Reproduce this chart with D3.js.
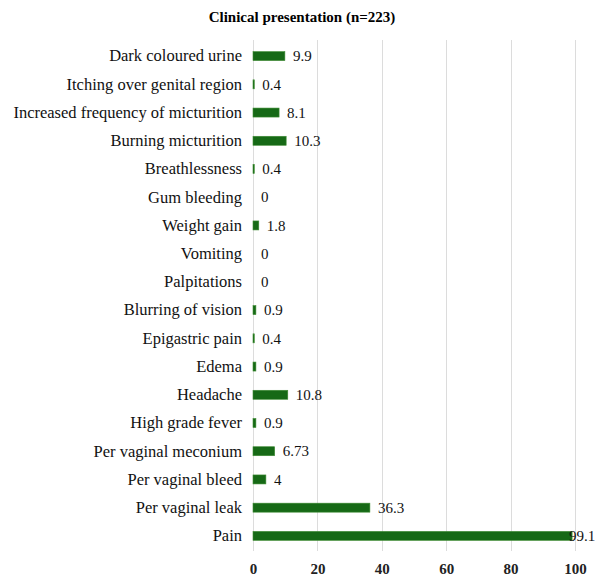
<!DOCTYPE html>
<html>
<head>
<meta charset="utf-8">
<script src="https://cdn.jsdelivr.net/npm/d3@7"></script>
</head>
<body style="margin:0">
<svg id="chart" width="598" height="582"></svg>
<script>
// Symptoms, listed top to bottom, with percentage of cases
const categories = [
  "Dark coloured urine",
  "Itching over genital region",
  "Increased frequency of micturition",
  "Burning micturition",
  "Breathlessness",
  "Gum bleeding",
  "Weight gain",
  "Vomiting",
  "Palpitations",
  "Blurring of vision",
  "Epigastric pain",
  "Edema",
  "Headache",
  "High grade fever",
  "Per vaginal meconium",
  "Per vaginal bleed",
  "Per vaginal leak",
  "Pain"
];
const values = [9.9, 0.4, 8.1, 10.3, 0.4, 0, 1.8, 0, 0, 0.9, 0.4, 0.9, 10.8, 0.9, 6.73, 4, 36.3, 99.1];
const valueLabels = ["9.9", "0.4", "8.1", "10.3", "0.4", "0", "1.8", "0", "0", "0.9", "0.4", "0.9", "10.8", "0.9", "6.73", "4", "36.3", "99.1"];
const tickValues = [0, 20, 40, 60, 80, 100];
const title = "Clinical presentation (n=223)";

const svg = d3.select("#chart");
const FONT = '"Liberation Serif", "Times New Roman", serif';

const x = d3.scaleLinear().domain([0, 100]).range([253, 575]);
const y = d3.scaleBand().domain(categories).range([42, 550]).paddingInner(0.68).paddingOuter(0.34);

// Vertical gridlines
svg.append("g").selectAll("line")
  .data(tickValues)
  .join("line")
  .attr("x1", d => Math.round(x(d)) + 0.5)
  .attr("x2", d => Math.round(x(d)) + 0.5)
  .attr("y1", 40).attr("y2", 551)
  .attr("stroke", "#dcdcdc")
  .attr("stroke-width", 1);

// Bars
const bh = 9;
svg.append("g").selectAll("rect")
  .data(values)
  .join("rect")
  .attr("x", x(0))
  .attr("y", (d, i) => y(categories[i]) + y.bandwidth() / 2 - bh / 2)
  .attr("width", d => x(d) - x(0))
  .attr("height", bh)
  .attr("fill", "#166916")
  .attr("stroke", d => d > 0 ? "#3f8c34" : "none")
  .attr("stroke-width", 0.6);

// Title
svg.append("text")
  .attr("x", 302).attr("y", 22)
  .attr("text-anchor", "middle")
  .style("font-family", FONT)
  .style("font-size", "15px")
  .style("font-weight", "bold")
  .text(title);

// Bottom axis labels (no domain line, no tick marks)
const xAxis = svg.append("g")
  .attr("transform", "translate(0,563)")
  .call(d3.axisBottom(x).tickValues(tickValues).tickSize(0).tickPadding(0).tickFormat(d3.format("d")));
xAxis.select(".domain").remove();
xAxis.selectAll("text")
  .style("font-family", FONT)
  .style("font-size", "15px")
  .style("font-weight", "bold")
  .attr("fill", "#222");

// Category labels
const labelSize = 16.5;
const yAxis = svg.append("g")
  .attr("transform", "translate(242,0)")
  .call(d3.axisLeft(y).tickSize(0).tickPadding(0));
yAxis.select(".domain").remove();
yAxis.selectAll("text")
  .style("font-family", FONT)
  .style("font-size", labelSize + "px")
  .attr("fill", "#111")
  .attr("dy", "0.32em");

// Shrink any category label that would run past the left edge
yAxis.selectAll("text").each(function () {
  const w = this.getComputedTextLength();
  if (w > 230) d3.select(this).style("font-size", (labelSize * 230 / w).toFixed(2) + "px");
});

// Value labels
svg.append("g").selectAll("text")
  .data(values)
  .join("text")
  .attr("x", d => d > 90 ? x(d) - 3 : x(d) + 8)
  .attr("y", (d, i) => y(categories[i]) + y.bandwidth() / 2)
  .attr("dy", "0.35em")
  .style("font-family", FONT)
  .style("font-size", "15px")
  .attr("fill", "#111")
  .text((d, i) => valueLabels[i]);
</script>
</body>
</html>
